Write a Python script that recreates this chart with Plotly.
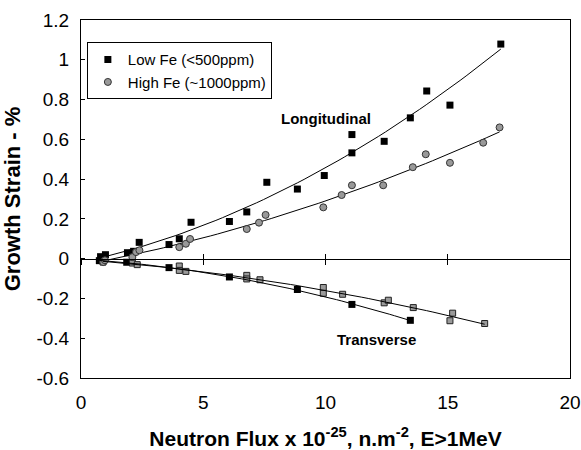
import numpy as np
import plotly.graph_objects as go

# ---- data ----
low_long_x = [0.8, 1.0, 1.9, 2.15, 2.38, 3.6, 4.02, 4.5, 6.07, 6.78, 7.6, 8.85, 9.95, 11.08, 11.08, 12.4, 13.47, 14.14, 15.09, 17.17]
low_long_y = [0.01, 0.02, 0.03, 0.037, 0.082, 0.071, 0.10, 0.183, 0.187, 0.235, 0.384, 0.35, 0.418, 0.532, 0.624, 0.59, 0.708, 0.843, 0.772, 1.079]

high_long_x = [0.91, 0.98, 2.1, 2.25, 2.39, 4.02, 4.29, 4.46, 6.78, 7.28, 7.55, 9.91, 10.66, 11.08, 12.36, 13.57, 14.1, 15.09, 16.45, 17.12]
high_long_y = [-0.017, -0.008, 0.008, 0.033, 0.042, 0.058, 0.075, 0.099, 0.149, 0.181, 0.22, 0.258, 0.32, 0.369, 0.369, 0.46, 0.525, 0.482, 0.583, 0.66]

low_trans_x = [0.75, 1.87, 3.6, 6.07, 8.85, 11.08, 13.47]
low_trans_y = [-0.01, -0.018, -0.045, -0.092, -0.155, -0.23, -0.31]

high_trans_x = [0.9, 2.1, 2.3, 4.02, 4.02, 4.29, 6.78, 6.78, 7.32, 9.91, 9.91, 10.7, 12.4, 12.57, 13.59, 15.2, 15.09, 16.51]
high_trans_y = [-0.017, -0.022, -0.03, -0.037, -0.059, -0.064, -0.084, -0.102, -0.106, -0.145, -0.174, -0.179, -0.222, -0.209, -0.246, -0.274, -0.312, -0.326]

x_ticks = [0, 5, 10, 15, 20]
y_ticks = [-0.6, -0.4, -0.2, 0, 0.2, 0.4, 0.6, 0.8, 1, 1.2]

FONT = "Arial, 'Liberation Sans', Helvetica, sans-serif"


def trend(xs, ys, deg=2, n=60):
    c = np.polyfit(xs, ys, deg)
    xx = np.linspace(min(xs), max(xs), n)
    return xx, np.polyval(c, xx)


fig = go.Figure()

# trend lines
for xs, ys, ax in [(low_long_x, low_long_y, "x"), (high_long_x, high_long_y, "x"),
                   (low_trans_x, low_trans_y, "x2"), (high_trans_x, high_trans_y, "x3")]:
    tx, ty = trend(xs, ys)
    fig.add_trace(go.Scatter(x=tx, y=ty, mode="lines", xaxis=ax,
                             line=dict(color="black", width=1),
                             showlegend=False, hoverinfo="skip"))

sq_black = dict(symbol="square", size=7, color="black", line=dict(color="black", width=0))
circ_grey = dict(symbol="circle", size=7, color="#999999", line=dict(color="#333333", width=1))
sq_grey = dict(symbol="square", size=6, color="#9a9a9a", line=dict(color="#222222", width=1))

fig.add_trace(go.Scatter(x=low_trans_x, y=low_trans_y, mode="markers", marker=sq_black, showlegend=False))
fig.add_trace(go.Scatter(x=high_trans_x, y=high_trans_y, mode="markers", marker=sq_grey, showlegend=False))
fig.add_trace(go.Scatter(x=low_long_x, y=low_long_y, mode="markers", marker=sq_black,
                         name="Low Fe (&lt;500ppm)"))
fig.add_trace(go.Scatter(x=high_long_x, y=high_long_y, mode="markers", marker=circ_grey,
                         name="High Fe (~1000ppm)"))

zero_frac = (0 - (-0.6)) / 1.8

fig.update_layout(
    width=581, height=450,
    margin=dict(l=81, r=11, t=20, b=72, autoexpand=False),
    paper_bgcolor="white", plot_bgcolor="white",
    font=dict(family=FONT, color="black", size=16),
    showlegend=True,
    legend=dict(x=0.012, y=0.938, xanchor="left", yanchor="top",
                bordercolor="black", borderwidth=1, bgcolor="white",
                font=dict(size=15, family=FONT), itemwidth=30, tracegroupgap=0),
    xaxis=dict(range=[0, 20], tickvals=x_ticks, ticks="", showline=True, linecolor="black",
               linewidth=1, mirror=True, showgrid=False, zeroline=False, automargin=False,
               tickfont=dict(size=19), ticklabelstandoff=7,
               title=dict(text="Neutron Flux x 10<sup>-25</sup>, n.m<sup>-2</sup>, E&gt;1MeV",
                          font=dict(size=21, family=FONT, weight="bold"), standoff=19)),
    xaxis2=dict(range=[0, 20], overlaying="x", anchor="free", position=zero_frac,
                tickvals=x_ticks, ticks="outside", ticklen=5, tickcolor="black",
                showticklabels=False, showline=True, linecolor="black", linewidth=1,
                showgrid=False, zeroline=False, automargin=False),
    xaxis3=dict(range=[0, 20], overlaying="x", anchor="free", position=zero_frac,
                tickvals=x_ticks, ticks="inside", ticklen=5, tickcolor="black",
                showticklabels=False, showline=True, linecolor="black", linewidth=1,
                showgrid=False, zeroline=False, automargin=False),
    yaxis=dict(range=[-0.6, 1.2], tickvals=y_ticks, ticktext=[f"{v:g}" for v in y_ticks],
               ticks="inside", ticklen=4, tickcolor="black",
               showline=True, linecolor="black", linewidth=1, mirror=True,
               showgrid=False, zeroline=False, tickfont=dict(size=19), ticklabelstandoff=7,
               automargin=False,
               title=dict(text="Growth Strain - %", font=dict(size=22, family=FONT, weight="bold"),
                          standoff=10)),
)

fig.add_annotation(x=10.04, y=0.706, text="Longitudinal", showarrow=False,
                   font=dict(size=15, family=FONT, weight="bold"))
fig.add_annotation(x=12.09, y=-0.406, text="Transverse", showarrow=False,
                   font=dict(size=15, family=FONT, weight="bold"))

fig.write_html("out.html", config={"displayModeBar": False},
               post_script="document.body.style.margin='0';")
